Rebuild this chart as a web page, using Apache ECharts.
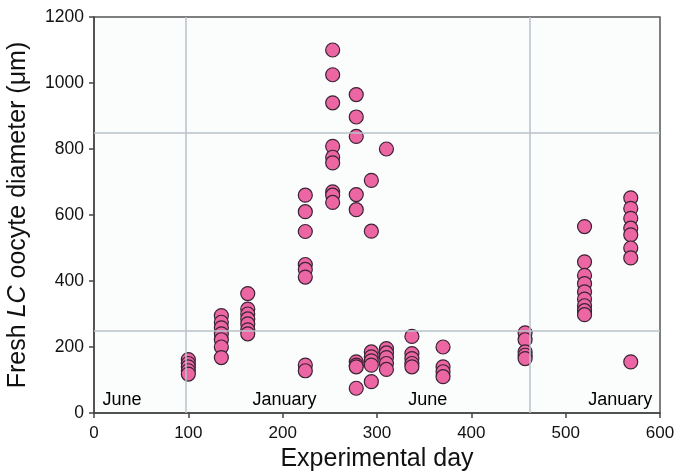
<!DOCTYPE html>
<html>
<head>
<meta charset="utf-8">
<script src="https://cdn.jsdelivr.net/npm/echarts@6/dist/echarts.min.js"></script>
<style>
  html, body { margin: 0; padding: 0; background: #fff; }
  #chart { width: 677px; height: 474px; }
</style>
</head>
<body>
<div id="chart"></div>
<script>
// sampling days and the oocyte diameters measured on each (µm)
const days = [100, 135, 163, 224, 253, 278, 294, 310, 337, 370, 457, 520, 569]
const diameters = [
  [162, 150, 140, 128, 118],
  [295, 275, 258, 240, 222, 200, 168],
  [362, 315, 300, 285, 270, 252, 240],
  [660, 610, 550, 450, 435, 412, 145, 128],
  [1100, 1025, 940, 808, 775, 758, 670, 660, 638],
  [965, 897, 838, 662, 616, 155, 145, 140, 75],
  [705, 551, 185, 170, 158, 145, 95],
  [800, 195, 182, 168, 150, 132],
  [232, 180, 165, 150, 140],
  [200, 140, 125, 110],
  [243, 222, 185, 175, 165],
  [565, 458, 417, 392, 367, 345, 325, 310, 298],
  [652, 620, 590, 560, 540, 500, 470, 155]
]
// season markers
const seasonLabels = ['June', 'January', 'June', 'January']
const seasonDays = [9, 168, 333, 524]
const seasonY = 38
const refDays = [97, 462]
const refDiameters = [250, 850]

const points = []
days.forEach((d, i) => {
  diameters[i].forEach(v => points.push([d, v]))
})

const chart = echarts.init(document.getElementById('chart'))
chart.setOption({
  animation: false,
  textStyle: { fontFamily: 'Liberation Sans, Arial, sans-serif' },
  grid: {
    left: 94, right: 17, top: 17, bottom: 61,
    outerBoundsMode: 'none',
    containLabel: false,
    show: true,
    backgroundColor: '#fbfcfc',
    borderColor: '#555',
    borderWidth: 1.5
  },
  xAxis: {
    type: 'value',
    min: 0, max: 600, interval: 100,
    name: 'Experimental day',
    nameLocation: 'middle',
    nameGap: 33,
    nameTextStyle: { fontSize: 25, color: '#111' },
    axisLine: { lineStyle: { color: '#444', width: 1.5 } },
    axisTick: { show: true, length: 5, lineStyle: { color: '#444', width: 1.5 } },
    axisLabel: { fontSize: 17, color: '#111', margin: 12 },
    splitLine: { show: false }
  },
  yAxis: {
    type: 'value',
    min: 0, max: 1200, interval: 200,
    name: '{a|Fresh }{b|LC}{a| oocyte diameter (μm)}',
    nameLocation: 'middle',
    nameGap: 63,
    nameTextStyle: {
      rich: {
        a: { fontSize: 25, color: '#111' },
        b: { fontSize: 25, color: '#111', fontStyle: 'italic' }
      }
    },
    axisLine: { lineStyle: { color: '#444', width: 1.5 } },
    axisTick: { show: true, length: 5, lineStyle: { color: '#444', width: 1.5 } },
    axisLabel: { fontSize: 17.5, color: '#111', margin: 10, formatter: v => String(v) },
    splitLine: { show: false }
  },
  series: [
    {
      type: 'scatter',
      data: [],
      silent: true,
      markLine: {
        symbol: 'none',
        silent: true,
        label: { show: false },
        lineStyle: { color: '#b9c3ca', width: 1.5, type: 'solid' },
        data: refDays.map(d => ({ xAxis: d })).concat(refDiameters.map(v => ({ yAxis: v })))
      }
    },
    {
      type: 'scatter',
      data: points,
      symbolSize: 14,
      itemStyle: { color: '#ec66a4', borderColor: '#3a2333', borderWidth: 1.2, opacity: 1 }
    },
    {
      type: 'scatter',
      symbolSize: 0,
      silent: true,
      data: seasonDays.map((d, i) => ({ value: [d, seasonY], name: seasonLabels[i] })),
      itemStyle: { opacity: 1 },
      label: {
        show: true,
        position: 'right',
        distance: 0,
        formatter: p => p.name,
        fontSize: 18,
        color: '#000',
        opacity: 1
      }
    }
  ]
})
</script>
</body>
</html>
